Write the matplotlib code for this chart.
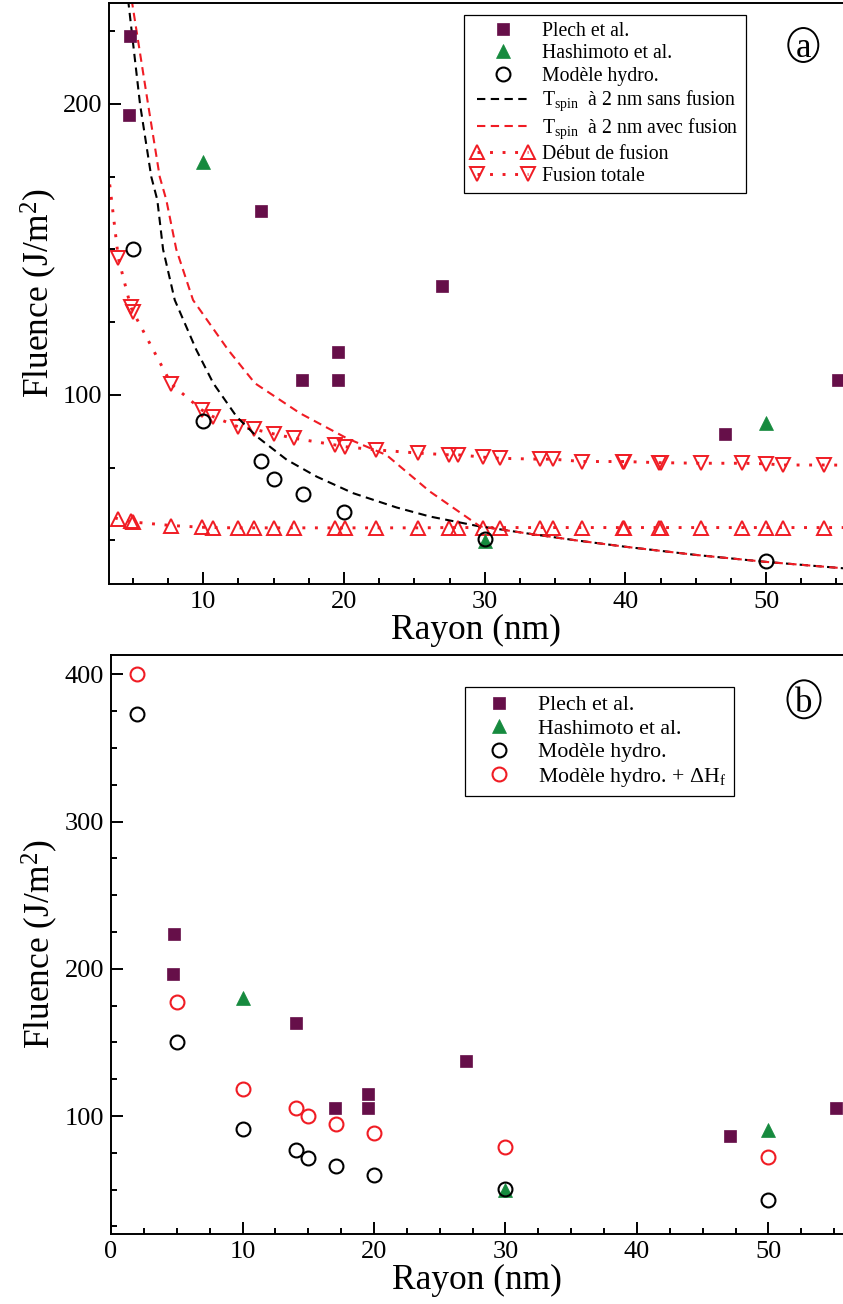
import matplotlib
matplotlib.use('Agg')
import matplotlib.pyplot as plt
from matplotlib.patches import Ellipse
from matplotlib.legend_handler import HandlerLine2D
from matplotlib.ticker import MultipleLocator

plt.rcParams['font.family'] = ['Liberation Serif', 'DejaVu Serif']
plt.rcParams['mathtext.fontset'] = 'custom'
plt.rcParams['mathtext.rm'] = 'Liberation Serif'
plt.rcParams['mathtext.it'] = 'Liberation Serif:italic'
plt.rcParams['mathtext.bf'] = 'Liberation Serif:bold'

# ---------------- data ----------------
plech_x = [4.8, 4.75, 14.1, 17.05, 19.55, 19.55, 27.0, 47.1, 55.1]
plech_y = [223.5, 196.3, 163.3, 105.2, 114.9, 105.2, 137.6, 86.5, 105.2]

hash_x = [10.0, 30.0, 50.0]
hash_y = [180.0, 49.8, 90.3]

hydro_x = [2.0, 5.0, 10.0, 14.1, 15.0, 17.1, 20.0, 30.0, 50.0]
hydro_y = [372.8, 150.2, 91.0, 77.2, 71.2, 66.0, 59.7, 50.4, 42.9]

hydro_dh_x = [2.0, 5.0, 10.0, 14.1, 15.0, 17.1, 20.0, 30.0, 50.0]
hydro_dh_y = [400.0, 177.4, 118.7, 105.4, 99.7, 94.5, 88.4, 79.3, 72.1]

tspin_sans_x = [4.65, 5.5, 6.3, 6.73, 7.14, 7.97, 9.5, 10.71, 12.37, 13.8, 15.93,
                18.06, 20.66, 23.74, 26.1, 29.43, 33.0, 36.5, 40.0, 45.0, 50.0, 55.5]
tspin_sans_y = [236.0, 200.0, 175.0, 167.0, 150.0, 132.6, 115.5, 104.0, 92.5, 85.7, 77.7,
                71.9, 66.2, 61.3, 58.2, 55.0, 52.4, 50.0, 47.8, 45.0, 42.6, 40.4]

tspin_avec_x = [4.9, 6.07, 6.9, 7.37, 8.08, 9.27, 11.76, 13.67, 16.87, 20.2, 23.03,
                26.1, 29.67, 33.0, 36.5, 40.0, 45.0, 50.0, 55.5]
tspin_avec_y = [236.0, 200.0, 175.0, 167.0, 150.0, 132.6, 115.5, 104.0, 93.7, 85.1, 79.3,
                66.8, 54.8, 52.4, 50.0, 47.8, 45.0, 42.6, 40.4]

fusion_x = [2.0, 3.96, 4.84, 5.0, 7.73, 9.9, 10.7, 12.45, 13.6, 15.0, 16.45, 19.35, 20.06,
            22.3, 25.25, 27.45, 28.1, 29.9, 31.1, 33.93, 34.87, 36.9, 39.8, 39.9, 42.4,
            42.5, 45.4, 48.3, 50.0, 51.2, 54.1, 57.5]
debut_y = [60.0, 57.4, 56.5, 56.3, 55.1, 54.5, 54.4, 54.3, 54.3, 54.3, 54.3, 54.3, 54.3,
           54.3, 54.3, 54.4, 54.4, 54.4, 54.4, 54.4, 54.4, 54.4, 54.4, 54.4, 54.4,
           54.4, 54.4, 54.4, 54.4, 54.4, 54.4, 54.4]
totale_y = [228.0, 147.0, 130.3, 128.6, 103.7, 94.8, 92.5, 89.1, 88.2, 86.6, 85.1, 82.8, 82.2,
            81.1, 80.0, 79.4, 79.4, 78.6, 78.2, 77.9, 77.9, 77.1, 77.1, 77.1, 76.7,
            76.7, 76.5, 76.5, 76.3, 75.9, 75.9, 75.8]

# ---------------- style ----------------
PURPLE = '#660f49'
GREEN = '#168a3e'
RED = '#f01c24'
DOT = (0, (1, 3.3))
DASH = (0, (4, 2.6))
TICKFS = 19
LABELFS = 25.5

fig = plt.figure(figsize=(8.43, 13.04), dpi=100)
ax1 = fig.add_axes([0.1297, 0.55215, 0.8703, 0.44532])
ax2 = fig.add_axes([0.1317, 0.05368, 0.8683, 0.44402])


def style_axes(ax):
    ax.spines['right'].set_visible(False)
    for s in ('left', 'bottom', 'top'):
        ax.spines[s].set_linewidth(1.4)
    ax.tick_params(which='both', direction='in', top=False, right=False,
                   width=1.4, labelsize=TICKFS)
    ax.tick_params(which='major', length=8.5, pad=5)
    ax.tick_params(which='minor', length=4.5)
    ax.xaxis.set_major_locator(MultipleLocator(10))
    ax.xaxis.set_minor_locator(MultipleLocator(2.5))
    ax.yaxis.set_major_locator(MultipleLocator(100))
    ax.yaxis.set_minor_locator(MultipleLocator(25))
    ax.set_xlabel('Rayon (nm)', fontsize=LABELFS, labelpad=1)
    ax.set_ylabel('Fluence (J/m$^2$)', fontsize=LABELFS, labelpad=3)


# ---------------- panel a ----------------
h_tot, = ax1.plot(fusion_x, totale_y, color=RED, ls=DOT, lw=2.1, marker='v', ms=9.5,
                  mfc='none', mec=RED, mew=1.4, dash_capstyle='butt', label='Fusion totale')
h_deb, = ax1.plot(fusion_x, debut_y, color=RED, ls=DOT, lw=2.1, marker='^', ms=9.5,
                  mfc='none', mec=RED, mew=1.4, dash_capstyle='butt', label='Début de fusion')
h_sans, = ax1.plot(tspin_sans_x, tspin_sans_y, color='black', ls=DASH, lw=1.5,
                   label=r'T$_{\mathrm{spin}}$  à 2 nm sans fusion')
h_avec, = ax1.plot(tspin_avec_x, tspin_avec_y, color=RED, ls=DASH, lw=1.5,
                   label=r'T$_{\mathrm{spin}}$  à 2 nm avec fusion')
h_plech, = ax1.plot(plech_x, plech_y, ls='none', marker='s', ms=9.2, mfc=PURPLE,
                    mec=PURPLE, mew=0.5, label='Plech et al.')
h_hash, = ax1.plot(hash_x, hash_y, ls='none', marker='^', ms=10, mfc=GREEN,
                   mec=GREEN, mew=0.5, label='Hashimoto et al.')
h_hyd, = ax1.plot(hydro_x, hydro_y, ls='none', marker='o', ms=10, mfc='none',
                  mec='black', mew=1.5, label='Modèle hydro.')

ax1.set_xlim(3.32, 55.47)
ax1.set_ylim(35.0, 234.6)
style_axes(ax1)

one = HandlerLine2D(numpoints=1)
hs1 = [h_plech, h_hash, h_hyd, h_sans, h_avec, h_deb, h_tot]
leg1 = ax1.legend(hs1, [h.get_label() for h in hs1],
                  handler_map={h_plech: one, h_hash: one, h_hyd: one},
                  loc='upper left', bbox_to_anchor=(0.4838, 0.9799), borderaxespad=0,
                  fontsize=14.2, numpoints=2, handlelength=3.2, handletextpad=0.4,
                  borderpad=0.35, labelspacing=0.17, fancybox=False, framealpha=1,
                  edgecolor='black')
leg1.get_frame().set_linewidth(0.9)

ax1.add_patch(Ellipse((0.9459, 0.9282), 0.0409, 0.0585, transform=ax1.transAxes,
                      fill=False, ec='black', lw=1.4, clip_on=False))
ax1.text(0.9459, 0.9282, 'a', transform=ax1.transAxes, ha='center', va='center_baseline',
         fontsize=25)

# ---------------- panel b ----------------
g_plech, = ax2.plot(plech_x, plech_y, ls='none', marker='s', ms=9.2, mfc=PURPLE,
                    mec=PURPLE, mew=0.5, label='Plech et al.')
g_hash, = ax2.plot(hash_x, hash_y, ls='none', marker='^', ms=10, mfc=GREEN,
                   mec=GREEN, mew=0.5, label='Hashimoto et al.')
g_hyd, = ax2.plot(hydro_x, hydro_y, ls='none', marker='o', ms=10, mfc='none',
                  mec='black', mew=1.5, label='Modèle hydro.')
g_dh, = ax2.plot(hydro_dh_x, hydro_dh_y, ls='none', marker='o', ms=10, mfc='none',
                 mec=RED, mew=1.5, label=r'Modèle hydro. + ΔH$_{\mathrm{f}}$')

ax2.set_xlim(0, 55.67)
ax2.set_ylim(19.9, 413.1)
style_axes(ax2)

leg2 = ax2.legend(loc='upper left', bbox_to_anchor=(0.4836, 0.9442), borderaxespad=0,
                  fontsize=15.7, numpoints=1, handlelength=2.4, handletextpad=0.6,
                  borderpad=0.35, labelspacing=0.15, fancybox=False, framealpha=1,
                  edgecolor='black')
leg2.get_frame().set_linewidth(0.9)

ax2.add_patch(Ellipse((0.9467, 0.9235), 0.0451, 0.0656, transform=ax2.transAxes,
                      fill=False, ec='black', lw=1.4, clip_on=False))
ax2.text(0.9467, 0.9235, 'b', transform=ax2.transAxes, ha='center', va='center_baseline',
         fontsize=25)

fig.savefig('out.png', dpi=100)
